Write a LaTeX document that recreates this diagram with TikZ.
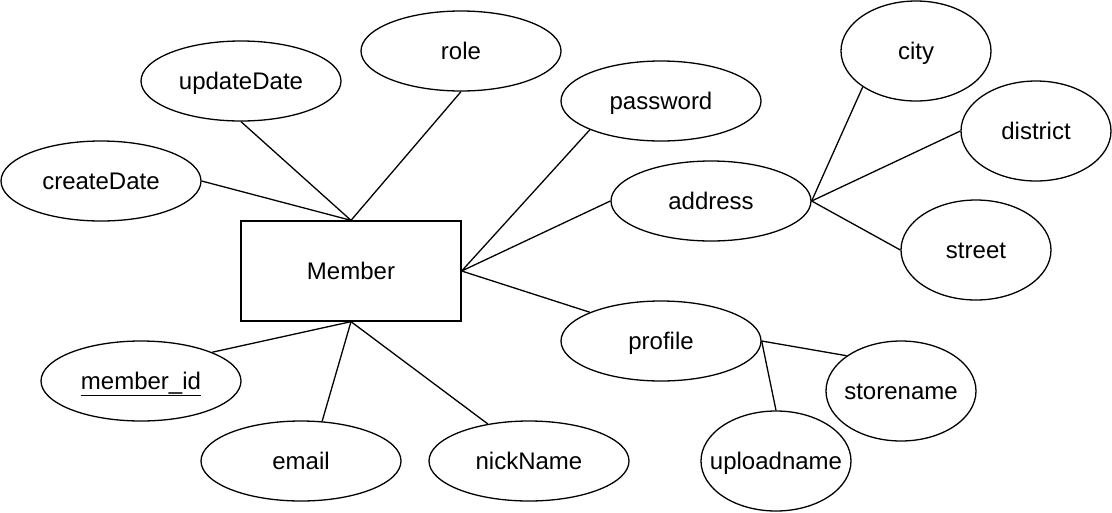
\documentclass[tikz,border=0pt]{standalone}
\usepackage{fontspec}
\setmainfont{Liberation Sans}
\usetikzlibrary{shapes.geometric}

\begin{document}
\begin{tikzpicture}[x=1pt,y=-1pt,
    every node/.style={font=\fontsize{24}{28}\selectfont,text height=17pt,text depth=0pt},
    attr/.style={ellipse,draw,line width=1.3pt,inner sep=0pt,minimum width=200pt,minimum height=80pt},
    petit/.style={attr,minimum width=150pt,minimum height=100pt},
    entite/.style={rectangle,draw,line width=1.3pt,minimum width=220pt,minimum height=100pt},
    lien/.style={line width=1.3pt}]

    % Cadre de l'image
    \useasboundingbox (0,0) rectangle (1112,512);

    % Entité Member
    \node[entite] (member) at (351,271) {Member};

    % Attributs de Member
    \node[attr] (createDate) at (101,181) {createDate};
    \node[attr] (updateDate) at (241,81) {updateDate};
    \node[attr] (role) at (461,51) {role};
    \node[attr] (password) at (661,101) {password};
    \node[attr] (address) at (711,201) {address};
    \node[attr] (profile) at (661,341) {profile};
    \node[attr] (memberId) at (141,381) {\underline{member\_id}};
    \node[attr] (email) at (301,461) {email};
    \node[attr] (nickName) at (529,461) {nickName};

    % Sous-attributs de address et profile
    \node[petit] (city) at (916,51) {\makebox[0pt]{city}};
    \node[petit] (district) at (1036,131) {\makebox[0pt]{district}};
    \node[petit] (street) at (976,250) {\makebox[0pt]{street}};
    \node[petit] (storename) at (901,391) {\makebox[0pt]{storename}};
    \node[petit] (uploadname) at (776,461) {\makebox[0pt]{uploadname}};

    % Liens vers Member
    \draw[lien] (member.north) -- (createDate.east);
    \draw[lien] (member.north) -- (updateDate.south);
    \draw[lien] (member.north) -- (role.south);
    \draw[lien] (member.east) -- (password.202);
    \draw[lien] (member.east) -- (address.west);
    \draw[lien] (member.east) -- (profile.158);
    \draw[lien] (member.south) -- (memberId.22);
    \draw[lien] (member.south) -- (email.62);
    \draw[lien] (member.south) -- (nickName.138);

    % Liens des attributs composés
    \draw[lien] (address.east) -- (city.214);
    \draw[lien] (address.east) -- (district.west);
    \draw[lien] (address.east) -- (street.west);
    \draw[lien] (profile.east) -- (storename.147);
    \draw[lien] (profile.east) -- (uploadname.north);
\end{tikzpicture}
\end{document}
